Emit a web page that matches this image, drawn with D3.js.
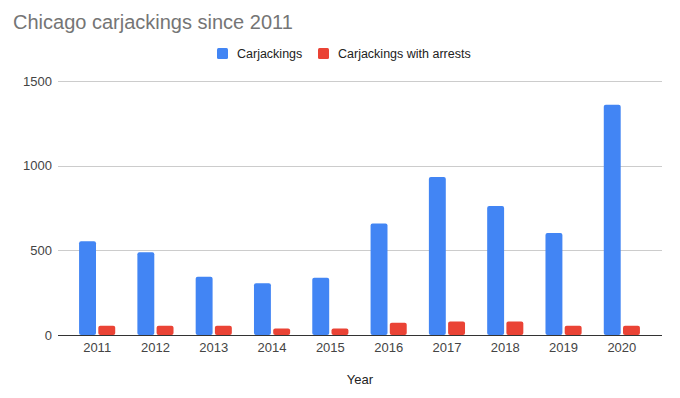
<!DOCTYPE html>
<html>
<head>
<meta charset="utf-8">
<script src="https://cdn.jsdelivr.net/npm/d3@7"></script>
<style>
  html, body { margin: 0; padding: 0; background: #fff; }
  svg { display: block; font-family: Arial, "Liberation Sans", sans-serif; }
</style>
</head>
<body>
<svg id="chart" width="680" height="398"></svg>
<script>
const years = ["2011","2012","2013","2014","2015","2016","2017","2018","2019","2020"];
const carjackings = [553, 488, 344, 305, 338, 659, 933, 762, 602, 1360];
const arrests = [55, 55, 55, 39, 39, 73, 79, 79, 55, 55];
const seriesNames = ["Carjackings", "Carjackings with arrests"];
const seriesColors = ["#4285f4", "#ea4335"];
const yTicks = [0, 500, 1000, 1500];

const svg = d3.select("#chart");
const plotLeft = 58, plotRight = 662, plotTop = 81, plotBottom = 335;

const y = d3.scaleLinear().domain([0, 1500]).range([plotBottom, plotTop]);
const x0 = d3.scaleBand().domain(years).range([68, 651]).paddingInner(0.38).paddingOuter(0.19);
const x1 = d3.scaleBand().domain([0, 1]).range([0, x0.bandwidth()]).paddingInner(0.12);

// Title
svg.append("text").attr("x", 13).attr("y", 28.5)
  .attr("font-size", 20).attr("fill", "#757575")
  .text("Chicago carjackings since 2011");

// Legend
const legendItems = [
  {x: 217, tx: 237, name: seriesNames[0], color: seriesColors[0]},
  {x: 318, tx: 338, name: seriesNames[1], color: seriesColors[1]}
];
legendItems.forEach(it => {
  svg.append("rect").attr("x", it.x).attr("y", 48).attr("width", 11).attr("height", 11)
    .attr("rx", 1.5).attr("fill", it.color);
  svg.append("text").attr("x", it.tx).attr("y", 58).attr("font-size", 12.5)
    .attr("fill", "#222").text(it.name);
});

// Gridlines
svg.append("g").selectAll("line").data(yTicks.filter(d => d > 0)).join("line")
  .attr("x1", plotLeft).attr("x2", plotRight)
  .attr("y1", d => Math.round(y(d)) + 0.5).attr("y2", d => Math.round(y(d)) + 0.5)
  .attr("stroke", "#cccccc").attr("stroke-width", 1);

// Y tick labels
svg.append("g").selectAll("text").data(yTicks).join("text")
  .attr("x", 52).attr("y", d => y(d)).attr("dy", "0.35em")
  .attr("text-anchor", "end").attr("font-size", 13).attr("fill", "#444")
  .text(d => d);

// Bars
const groups = svg.append("g").selectAll("g").data(years).join("g")
  .attr("transform", d => `translate(${x0(d)},0)`);
groups.selectAll("rect")
  .data((d, i) => [carjackings[i], arrests[i]])
  .join("rect")
  .attr("x", (d, j) => x1(j))
  .attr("width", x1.bandwidth())
  .attr("y", d => y(d))
  .attr("height", d => y(0) - y(d))
  .attr("rx", 2)
  .attr("fill", (d, j) => seriesColors[j]);

// Baseline axis
svg.append("line").attr("x1", plotLeft).attr("x2", plotRight)
  .attr("y1", Math.round(y(0)) + 0.5).attr("y2", Math.round(y(0)) + 0.5)
  .attr("stroke", "#333").attr("stroke-width", 1.2);

// X labels
svg.append("g").selectAll("text").data(years).join("text")
  .attr("x", d => x0(d) + x0.bandwidth() / 2).attr("y", 352)
  .attr("text-anchor", "middle").attr("font-size", 13).attr("fill", "#444")
  .text(d => d);

// X axis title
svg.append("text").attr("x", 360).attr("y", 384).attr("text-anchor", "middle")
  .attr("font-size", 13).attr("fill", "#222").text("Year");
</script>
</body>
</html>
